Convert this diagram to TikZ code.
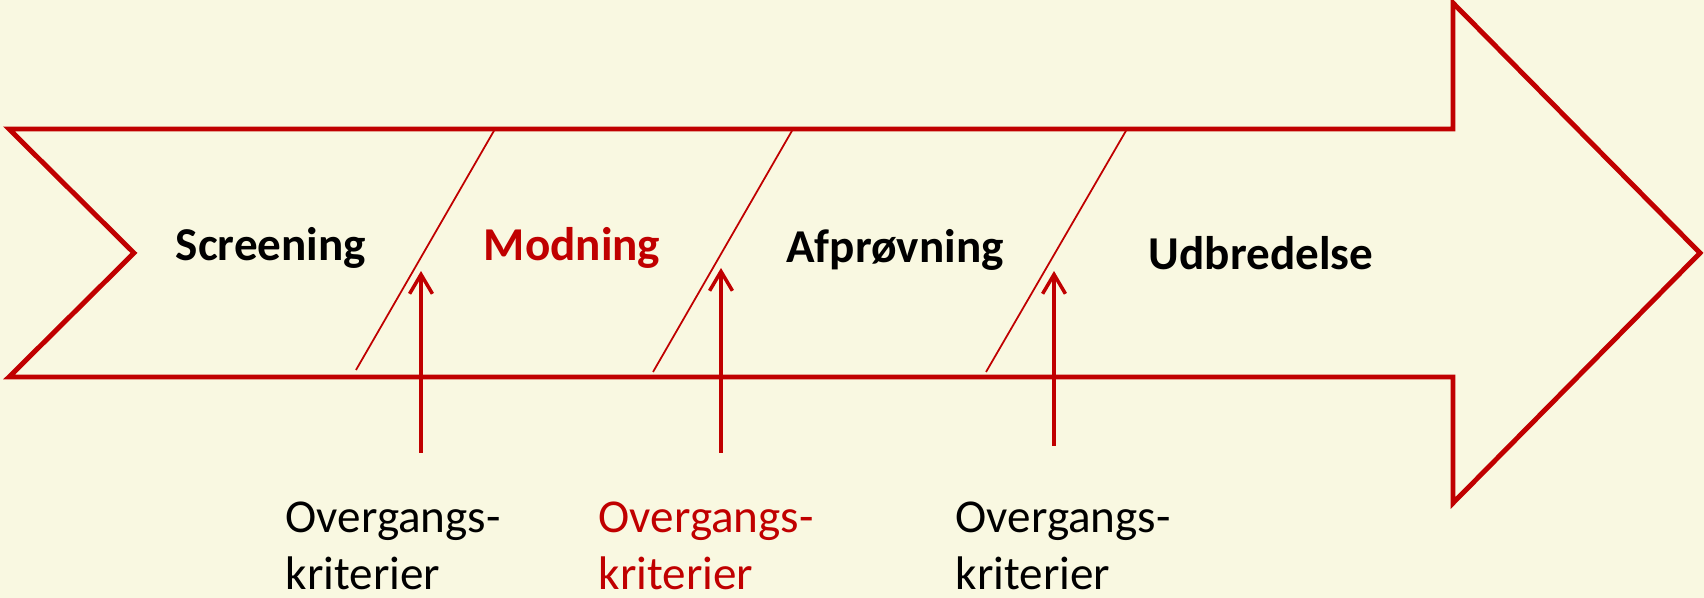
\documentclass[tikz,border=0pt]{standalone}
\usepackage{fontspec}
\setmainfont{Carlito}
\usepackage{tikz}
\usetikzlibrary{arrows.meta, positioning}
\definecolor{bgcolor}{RGB}{249, 248, 225}
\definecolor{phasered}{RGB}{192, 0, 0}

\begin{document}
\begin{tikzpicture}[
    x=0.01cm, y=-0.01cm,
    outline/.style={draw=phasered, line width=1.4pt, line join=miter},
    divider/.style={draw=phasered, line width=0.5pt},
    criterion/.style={draw=phasered, line width=1pt, -{Straight Barb[length=5.5pt, width=6.5pt, line width=1pt]}},
    phase/.style={font=\fontsize{13.4}{16}\selectfont\bfseries, inner sep=0pt},
    crittext/.style={font=\fontsize{13.4}{16.2}\selectfont, align=left, anchor=north west, inner sep=0pt},
]
    % Background
    \fill[bgcolor] (0,0) rectangle (1704,598);
    \useasboundingbox (0,0) rectangle (1704,598);

    % Arrow shape
    \draw[outline] (9,129) -- (1453,129) -- (1453,3) -- (1700,253) -- (1453,503)
        -- (1453,377) -- (9,377) -- (134,253) -- cycle;

    % Dividers between phases
    \draw[divider] (495,129) -- (356,370);
    \draw[divider] (793,129) -- (653,372);
    \draw[divider] (1127,129) -- (986,372);

    % Phases
    \node[phase] (screening) at (271,248) {Screening};
    \node[phase, text=phasered] (modning) at (572,248) {Modning};
    \node[phase] (afproevning) at (895,250) {Afprøvning};
    \node[phase] (udbredelse) at (1261,253) {Udbredelse};

    % Transition criteria
    \coordinate (crit1 start) at (421,453);
    \coordinate (crit1 end) at (421,271);
    \coordinate (crit2 start) at (721,453);
    \coordinate (crit2 end) at (721,268);
    \coordinate (crit3 start) at (1054,446);
    \coordinate (crit3 end) at (1054,271);
    \draw[criterion] (crit1 start) -- (crit1 end);
    \draw[criterion] (crit2 start) -- (crit2 end);
    \draw[criterion] (crit3 start) -- (crit3 end);

    \node[crittext] (krit1) at (285,501) {Overgangs-\\kriterier};
    \node[crittext, text=phasered] (krit2) at (598,501) {Overgangs-\\kriterier};
    \node[crittext] (krit3) at (955,501) {Overgangs-\\kriterier};

\end{tikzpicture}
\end{document}
